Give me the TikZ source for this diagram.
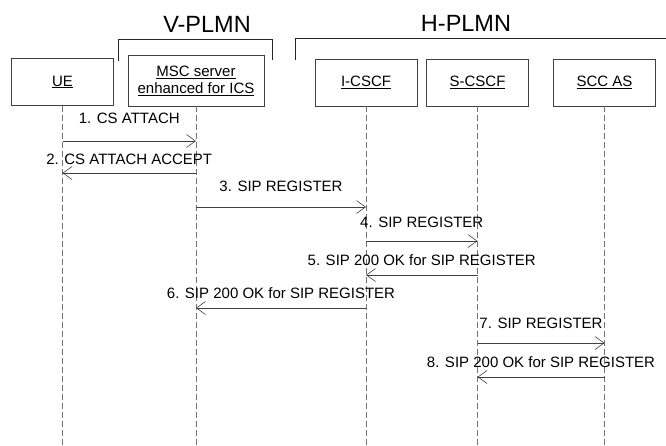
\documentclass[tikz,border=0pt]{standalone}
\usepackage{fontspec}
\setmainfont{Liberation Sans}
\usetikzlibrary{arrows.meta}

\begin{document}
\begin{tikzpicture}[x=1pt,y=-1pt,
    entity/.style={draw=black!75, line width=0.6pt, minimum width=102pt,
      minimum height=47pt, inner sep=0pt, align=center,
      font=\fontsize{15}{17}\selectfont},
    lifeline/.style={draw=black!55, line width=0.7pt, dash pattern=on 6pt off 3pt},
    msg/.style={draw=black!75, line width=0.6pt,
      -{Straight Barb[length=9pt,width=13pt]}},
    lbl/.style={inner sep=0pt, font=\fontsize{15}{17}\selectfont},
    plmn/.style={inner sep=0pt, font=\fontsize{23.5}{25}\selectfont},
    bracket/.style={draw=black!85, line width=0.8pt}]
  \useasboundingbox (0,0) rectangle (666,445);
  % network headers
  \node[plmn] (vplmn) at (207,24) {V-PLMN};
  \node[plmn] (hplmn) at (466,23) {H-PLMN};
  \draw[bracket] (118,61) -- (118,39) -- (272,39) -- (272,60);
  \draw[bracket] (295,60) -- (295,38) -- (666,38);
  % entities
  \node[entity] (ue) at (62.5,82) {\underline{UE}};
  \node[entity, minimum width=136pt, minimum height=51pt] (msc) at (196,80.5)
    {\underline{MSC server}\\\underline{enhanced for ICS}};
  \node[entity] (icscf) at (366,82.5) {\underline{I-CSCF}};
  \node[entity] (scscf) at (477.5,82.5) {\underline{S-CSCF}};
  \node[entity] (sccas) at (604.5,82.5) {\underline{SCC AS}};
  \foreach \n in {ue,msc,icscf,scscf,sccas} {
    \draw[lifeline] (\n.south) -- (\n.south |- 0,445);
  }
  % messages
  \foreach \a/\b/\y/\d/\txt in {
      ue/msc/141/23/{1. CS ATTACH},
      msc/ue/173/14/{2. CS ATTACH ACCEPT},
      msc/icscf/207/21/{3. SIP REGISTER},
      icscf/scscf/241/19/{4. SIP REGISTER},
      scscf/icscf/275/15/{5. SIP 200 OK for SIP REGISTER},
      icscf/msc/308/15/{6. SIP 200 OK for SIP REGISTER},
      scscf/sccas/343/20/{7. SIP REGISTER},
      sccas/scscf/377/15/{8. SIP 200 OK for SIP REGISTER}} {
    \draw[msg] (\a.south |- 0,\y) -- node[lbl, midway, yshift=\d pt] {\txt}
      (\b.south |- 0,\y);
  }
\end{tikzpicture}
\end{document}
